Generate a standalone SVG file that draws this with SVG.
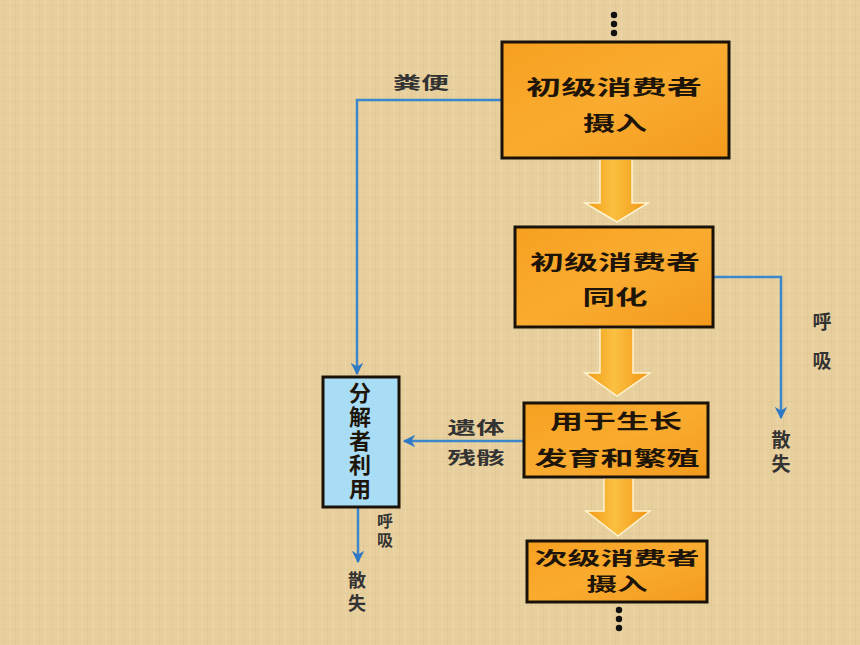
<svg xmlns="http://www.w3.org/2000/svg" width="860" height="645" viewBox="0 0 860 645">
<defs>
<pattern id="tex" width="12" height="12" patternUnits="userSpaceOnUse">
<rect width="12" height="12" fill="#E8D09E"/>
<rect x="3" width="1" height="12" fill="#DCC28C" opacity="0.5"/>
<rect x="9" width="1" height="12" fill="#F0DCB0" opacity="0.6"/>
<rect y="5" width="12" height="1" fill="#DCC28C" opacity="0.4"/>
</pattern>
<linearGradient id="ag" x1="0" y1="0" x2="1" y2="0">
<stop offset="0" stop-color="#F39A18"/>
<stop offset="0.45" stop-color="#FBC040"/>
<stop offset="1" stop-color="#F29515"/>
</linearGradient>
<linearGradient id="bg" x1="0" y1="0" x2="1" y2="1">
<stop offset="0" stop-color="#F7A020"/>
<stop offset="0.5" stop-color="#F9AC30"/>
<stop offset="1" stop-color="#F39A1E"/>
</linearGradient>
<marker id="ah" viewBox="0 0 10 10" refX="9" refY="5" markerWidth="5" markerHeight="5" orient="auto">
<path d="M0,0 L10,5 L0,10 L3,5 Z" fill="#2F78C4"/>
</marker>
</defs>
<style>
.box{fill:url(#bg);stroke:#1A1208;stroke-width:3}
.blue{fill:#A9DDF5;stroke:#1A1208;stroke-width:3}
.t{font-family:"Noto Sans CJK SC","Noto Sans CJK JP",sans-serif;font-weight:bold;fill:#1E1408;text-anchor:middle}
.bt{font-size:20px}
.lb{font-size:17px;fill:#333}
.v{writing-mode:vertical-rl}
.ln{fill:none;stroke:#3C86CC;stroke-width:2.5}
.big{fill:url(#ag);stroke:#FFF3D0;stroke-width:1.5}
.dot{fill:#111}
</style>
<rect width="860" height="645" fill="url(#tex)"/>

<g id="connectors">
<path class="ln" d="M502,100 H357 V374" marker-end="url(#ah)"/>
<path class="ln" d="M713,277 H781 V418" marker-end="url(#ah)"/>
<path class="ln" d="M524,441 H404" marker-end="url(#ah)"/>
<path class="ln" d="M358,507 V562" marker-end="url(#ah)"/>
<path class="big" d="M600,159 H632 V203 H648 L617,222 L585,203 H600 Z"/>
<path class="big" d="M600,328 H633 V373 H650 L617,396 L585,373 H600 Z"/>
<path class="big" d="M604,478 H633 V511 H650 L618,536 L586,511 H604 Z"/>
<circle class="dot" cx="614" cy="15" r="3.2"/>
<circle class="dot" cx="614" cy="24" r="3.2"/>
<circle class="dot" cx="614" cy="33" r="3.2"/>
<circle class="dot" cx="619" cy="610" r="3.2"/>
<circle class="dot" cx="619" cy="619" r="3.2"/>
<circle class="dot" cx="619" cy="628" r="3.2"/>
<text class="t lb" x="421" y="89" textLength="56" lengthAdjust="spacingAndGlyphs">粪便</text>
<text class="t lb v" x="822" y="351" style="font-size:19px;letter-spacing:20px">呼吸</text>
<text class="t lb v" x="781" y="454" style="font-size:19px;letter-spacing:5px">散失</text>
<text class="t lb" x="476" y="434" textLength="57" lengthAdjust="spacingAndGlyphs">遗体</text>
<text class="t lb" x="476" y="464" textLength="57" lengthAdjust="spacingAndGlyphs">残骸</text>
<text class="t lb v" x="385" y="532" style="font-size:16px;letter-spacing:3px">呼吸</text>
<text class="t lb v" x="357" y="594" style="font-size:18px;letter-spacing:5px">散失</text>
</g>

<g id="n1">
<rect class="box" x="502" y="42" width="227" height="116"/>
<text class="t bt" x="614" y="95" textLength="176" lengthAdjust="spacingAndGlyphs">初级消费者</text>
<text class="t bt" x="615" y="131" textLength="64" lengthAdjust="spacingAndGlyphs">摄入</text>
</g>
<g id="n2">
<rect class="box" x="515" y="227" width="198" height="100"/>
<text class="t bt" x="615" y="270" textLength="170" lengthAdjust="spacingAndGlyphs">初级消费者</text>
<text class="t bt" x="615" y="305" textLength="65" lengthAdjust="spacingAndGlyphs">同化</text>
</g>
<g id="n3">
<rect class="box" x="524" y="403" width="184" height="74"/>
<text class="t bt" x="616" y="429" textLength="132" lengthAdjust="spacingAndGlyphs">用于生长</text>
<text class="t bt" x="617" y="466" textLength="165" lengthAdjust="spacingAndGlyphs">发育和繁殖</text>
</g>
<g id="n4">
<rect class="box" x="527" y="541" width="180" height="61"/>
<text class="t" style="font-size:18px" x="617" y="565" textLength="165" lengthAdjust="spacingAndGlyphs">次级消费者</text>
<text class="t" style="font-size:18px" x="617" y="591" textLength="61" lengthAdjust="spacingAndGlyphs">摄入</text>
</g>
<g id="n5">
<rect class="blue" x="323" y="377" width="76" height="130"/>
<text class="t v" style="font-size:22px;letter-spacing:2px" x="360" y="442">分解者利用</text>
</g>
</svg>
